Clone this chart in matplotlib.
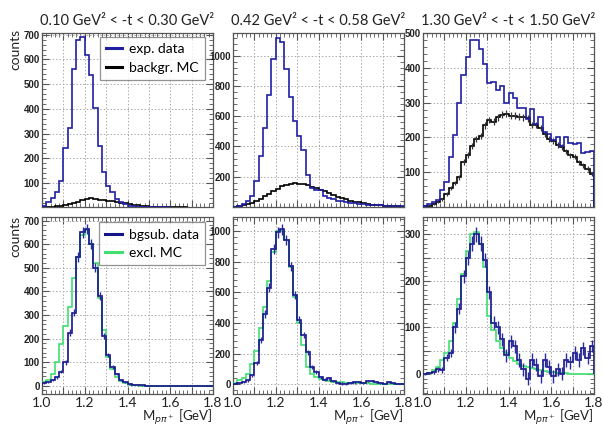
import numpy as np
import matplotlib.pyplot as plt
from matplotlib.ticker import MultipleLocator, FuncFormatter

# 40 bins of 20 MeV in M(p pi+) from 1.0 to 1.8 GeV
edges = np.linspace(1.0, 1.8, 41)
centers = 0.5 * (edges[:-1] + edges[1:])

t_bins = ["0.10 GeV² < -t < 0.30 GeV²",
          "0.42 GeV² < -t < 0.58 GeV²",
          "1.30 GeV² < -t < 1.50 GeV²"]

# raw data and background MC
exp_1 = [8, 22, 40, 62, 110, 240, 322, 563, 680, 692, 620, 537, 403, 250, 143, 88, 63, 36, 22, 14,
         9, 6, 4, 3, 2, 2, 1, 1, 1, 1, 0, 0, 0, 0, 0, 0, 0, 0, 0, 0]
bkg_1 = [1, 2, 4, 6, 9, 12, 16, 20, 25, 30, 35, 38, 36, 33, 30, 28, 26, 24, 21, 18,
         15, 12, 10, 8, 6, 5, 4, 3, 2, 2, 1, 1, 1, 1, 0, 0, 0, 0, 0, 0]
exp_2 = [3, 8, 18, 40, 75, 175, 340, 525, 740, 980, 1120, 1090, 910, 730, 570, 470, 380, 210, 125, 115,
         110, 70, 60, 50, 40, 38, 30, 28, 25, 20, 18, 15, 12, 10, 10, 8, 8, 6, 6, 5]
bkg_2 = [2, 5, 10, 18, 28, 40, 55, 70, 88, 105, 122, 138, 148, 155, 158, 155, 150, 145, 135, 125,
         115, 105, 92, 80, 68, 58, 50, 42, 36, 30, 25, 20, 16, 13, 10, 8, 6, 5, 4, 3]
exp_3 = [3, 8, 15, 20, 50, 72, 145, 208, 300, 380, 430, 480, 480, 455, 410, 355, 360, 335, 347, 300,
         328, 312, 285, 285, 252, 282, 238, 260, 215, 210, 193, 202, 175, 202, 183, 180, 185, 155, 158, 160]
bkg_3 = [2, 4, 8, 15, 22, 38, 55, 70, 85, 130, 150, 175, 195, 205, 235, 250, 245, 258, 265, 268,
         262, 262, 260, 258, 255, 235, 235, 228, 210, 195, 190, 178, 172, 160, 148, 145, 128, 120, 110, 95]
bkg_err_3 = [1, 2, 3, 4, 4, 5, 6, 6, 7, 8, 8, 9, 9, 9, 10, 10, 10, 10, 10, 10,
             10, 10, 10, 10, 10, 9, 9, 9, 9, 9, 8, 8, 8, 8, 8, 8, 7, 7, 7, 7]

# background-subtracted data and exclusive MC
sub_1 = [12, 15, 25, 35, 60, 100, 225, 310, 545, 650, 665, 600, 500, 380, 210, 130, 80, 50, 25, 15,
         8, 5, 3, 2, 1, 0, 0, 0, 0, 0, 0, 0, 0, 0, 0, 0, 0, 0, 0, 0]
sub_err_1 = [3, 4, 5, 6, 8, 10, 14, 16, 20, 22, 22, 21, 19, 17, 13, 10, 8, 6, 5, 4,
             3, 2, 2, 1, 1, 1, 0, 0, 0, 0, 0, 0, 0, 0, 0, 0, 0, 0, 0, 0]
mc_1 = [15, 25, 50, 100, 175, 255, 335, 455, 545, 640, 660, 600, 520, 370, 235, 120, 70, 35, 20, 10,
        5, 3, 2, 1, 0, 0, 0, 0, 0, 0, 0, 0, 0, 0, 0, 0, 0, 0, 0, 0]
sub_2 = [5, 10, 15, 25, 60, 140, 290, 460, 630, 880, 990, 1010, 940, 770, 580, 420, 320, 210, 110, 80,
         45, 30, 40, 20, 10, 5, 0, 8, 12, 15, 10, 20, 20, 15, 10, 5, 15, 10, 5, 5]
sub_err_2 = [4, 5, 6, 8, 10, 15, 20, 25, 28, 32, 34, 34, 33, 30, 26, 22, 20, 16, 13, 11,
             10, 9, 9, 8, 8, 7, 7, 7, 7, 7, 6, 6, 6, 6, 6, 6, 6, 5, 5, 5]
mc_2 = [10, 25, 40, 70, 135, 215, 365, 505, 670, 860, 1000, 1000, 940, 765, 570, 400, 255, 115, 70, 50,
        35, 25, 20, 16, 14, 12, 10, 9, 8, 7, 6, 6, 5, 5, 4, 4, 3, 3, 3, 3]
sub_3 = [0, 2, 5, 10, 8, 35, 45, 100, 140, 210, 250, 280, 300, 280, 245, 175, 110, 100, 75, 40,
         70, 60, 30, 10, -10, 30, 20, -5, 30, 15, -5, 10, 0, 30, 25, 45, 30, 55, 35, 60]
sub_err_3 = [2, 3, 4, 5, 6, 8, 9, 11, 12, 14, 15, 16, 16, 16, 15, 14, 14, 14, 14, 14,
             14, 14, 14, 14, 14, 14, 14, 14, 14, 14, 14, 14, 14, 14, 14, 14, 14, 14, 13, 13]
mc_3 = [0, 3, 8, 15, 30, 45, 70, 110, 160, 215, 265, 300, 305, 280, 230, 125, 95, 70, 55, 45,
        35, 28, 22, 18, 14, 12, 10, 8, 6, 5, 4, 3, 2, 2, 1, 1, 1, 1, 1, 1]

top_data = [(exp_1, bkg_1, None), (exp_2, bkg_2, None), (exp_3, bkg_3, bkg_err_3)]
bot_data = [(sub_1, sub_err_1, mc_1), (sub_2, sub_err_2, mc_2), (sub_3, sub_err_3, mc_3)]

top_ylim = [(3, 707), (0, 1150), (0, 500)]
top_major = [100, 200, 100]
bot_ylim = [(-35, 715), (-63, 1090), (-43, 337)]
bot_major = [100, 200, 50]
bot_label_step = [100, 200, 100]

BLUE = '#1f1fa3'
NAVY = '#14148a'
GREEN = '#3fe070'
TXT = 'Lato'
TICK_FONT = 'Liberation Sans'

fig = plt.figure(figsize=(6.03, 4.26), dpi=100)
W, H = 603, 426
col_x = [42, 233, 423]
ax_w = 171


def style_axes(ax, major, label_step, show_x, show_zero):
    ax.set_xlim(1.0, 1.8)
    ax.xaxis.set_major_locator(MultipleLocator(0.1))
    ax.xaxis.set_minor_locator(MultipleLocator(0.02))
    ax.yaxis.set_major_locator(MultipleLocator(major))
    ax.yaxis.set_minor_locator(MultipleLocator(major / 5))
    ax.tick_params(which='both', direction='in', top=True, right=True, colors='#555555')
    ax.tick_params(which='major', length=5, width=0.8)
    ax.tick_params(which='minor', length=3, width=0.6)
    ax.grid(True, which='major', linestyle=(0, (1.5, 2)), color='#aaaaaa', linewidth=0.7)

    def ylab(v, p):
        if v > 0 and abs(v % label_step) < 1e-6:
            return '%d' % v
        if v == 0 and show_zero:
            return '0'
        return ''
    ax.yaxis.set_major_formatter(FuncFormatter(ylab))
    ax.tick_params(axis='y', labelsize=7, labelcolor='#222222', pad=1.5)
    if show_x:
        ax.xaxis.set_major_formatter(FuncFormatter(
            lambda v, p: ('%.1f' % v) if abs(round(v * 10) % 2) == 0 else ''))
        ax.tick_params(axis='x', labelsize=10, labelcolor='#222222', pad=2)
        for lab in ax.get_xticklabels():
            lab.set_family(TXT)
    else:
        ax.xaxis.set_major_formatter(FuncFormatter(lambda v, p: ''))
    for lab in ax.get_yticklabels():
        lab.set_family(TICK_FONT)
        lab.set_fontweight('bold')
    for s in ax.spines.values():
        s.set_color('#555555')
        s.set_linewidth(0.9)


def add_legend(ax, top):
    h, l = ax.get_legend_handles_labels()
    leg = ax.legend(h[::-1], l[::-1], loc='upper right', bbox_to_anchor=(0.955, top),
                    prop={'family': TXT, 'size': 10}, frameon=True, fancybox=False,
                    edgecolor='#777777', handlelength=1.2, handletextpad=0.5, borderpad=0.45,
                    labelspacing=0.45, borderaxespad=0)
    leg.get_frame().set_linewidth(0.9)
    for ln in leg.get_lines():
        ln.set_linewidth(2.2)


for i in range(3):
    # upper row: raw data with background MC
    ax = fig.add_axes([col_x[i] / W, 1 - 207 / H, ax_w / W, 174 / H])
    exp, bkg, bkg_err = top_data[i]
    ax.stairs(bkg, edges, color='#000000', linewidth=1.2, zorder=3, label='backgr. MC')
    if bkg_err is not None:
        ax.errorbar(centers, bkg, yerr=bkg_err, fmt='none', ecolor='#333333', elinewidth=0.9, zorder=3)
    ax.stairs(exp, edges, color=BLUE, linewidth=1.2, zorder=4, label='exp. data')
    ax.set_ylim(*top_ylim[i])
    style_axes(ax, top_major[i], top_major[i], False, False)
    ax.set_title(t_bins[i], family=TXT, fontsize=10.5, pad=6, color='#222222')
    if i == 0:
        add_legend(ax, 0.977)

    # lower row: background-subtracted data with exclusive MC
    ax = fig.add_axes([col_x[i] / W, 1 - 394 / H, ax_w / W, 177 / H])
    sub, sub_err, mc = bot_data[i]
    ax.stairs(mc, edges, color=GREEN, linewidth=1.2, zorder=3, label='excl. MC')
    ax.stairs(sub, edges, color=NAVY, linewidth=1.2, zorder=4, label='bgsub. data')
    ax.errorbar(centers, sub, yerr=sub_err, fmt='none', ecolor='#2a2aa0', elinewidth=1.0, zorder=4)
    ax.set_ylim(*bot_ylim[i])
    style_axes(ax, bot_major[i], bot_label_step[i], True, True)
    ax.text(1.0, -0.135, r'M$_{p\pi^+}$ [GeV]', transform=ax.transAxes, family=TXT, fontsize=9.5,
            ha='right', va='center', color='#222222')
    if i == 0:
        add_legend(ax, 0.97)

# y-axis titles for the left column
fig.text(15 / W, 1 - 29 / H, 'counts', rotation=90, ha='center', va='top', family=TXT, fontsize=10,
         color='#222222')
fig.text(15 / W, 1 - 216 / H, 'counts', rotation=90, ha='center', va='top', family=TXT, fontsize=10,
         color='#222222')

fig.savefig('out.png', dpi=100)
